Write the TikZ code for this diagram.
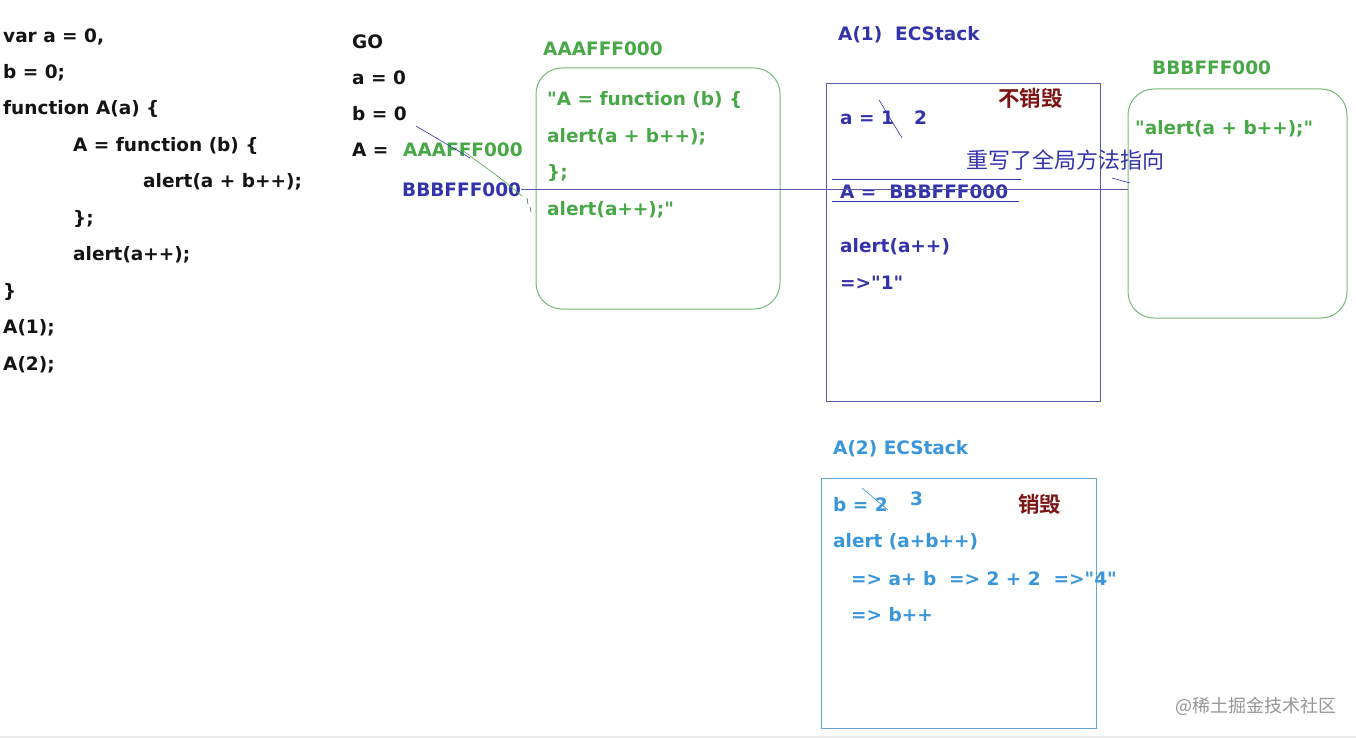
\documentclass[tikz,border=0pt]{standalone}
\usepackage{fontspec}
\newfontfamily\codefont{DejaVu Sans}[BoldFont={DejaVu Sans Bold}]
\newfontfamily\cjk{Noto Sans CJK SC}[BoldFont={Noto Sans CJK SC Bold}]
\definecolor{codeblack}{RGB}{20,20,20}
\definecolor{mygreen}{RGB}{72,168,72}
\definecolor{boxgreen}{RGB}{120,185,120}
\definecolor{darkblue}{RGB}{52,52,170}
\definecolor{boxblue}{RGB}{90,90,170}
\definecolor{lightblue}{RGB}{58,150,218}
\definecolor{boxlblue}{RGB}{100,165,215}
\definecolor{darkred}{RGB}{125,20,20}
\definecolor{wmgray}{RGB}{150,150,150}
\begin{document}
\begin{tikzpicture}[x=1pt,y=-1pt,
  txt/.style={anchor=west,inner sep=0pt,yshift=-1.5pt,font=\fontsize{18.5}{22}\selectfont\codefont\bfseries},
  code/.style={txt,text=codeblack},
  gtxt/.style={txt,text=mygreen},
  btxt/.style={txt,text=darkblue},
  ltxt/.style={txt,text=lightblue},
  cjktxt/.style={anchor=west,inner sep=0pt,font=\fontsize{22}{26}\selectfont\cjk},
  rtxt/.style={cjktxt,text=darkred,font=\fontsize{21.5}{26}\selectfont\cjk\bfseries},
  gbox/.style={draw=boxgreen,line width=1pt,rounded corners=26pt},
  bbox/.style={draw=boxblue,line width=1pt},
  lbox/.style={draw=boxlblue,line width=1pt},
  strike/.style={line width=0.6pt}
]
\useasboundingbox (0,0) rectangle (1356,738);
\fill[white] (0,0) rectangle (1356,738);
\draw[line width=1.5pt,draw=black!8] (0,737) -- (1356,737);

% left code
\node[code] (c1) at (3,35) {var a = 0,};
\node[code] (c2) at (3,71) {b = 0;};
\node[code] (c3) at (3,107) {function A(a) \{};
\node[code] (c4) at (73,144) {A = function (b) \{};
\node[code] (c5) at (143,180) {alert(a + b++);};
\node[code] (c6) at (73,217) {\};};
\node[code] (c7) at (73,253) {alert(a++);};
\node[code] (c8) at (3,290) {\}};
\node[code] (c9) at (3,326) {A(1);};
\node[code] (c10) at (3,363) {A(2);};

% GO
\node[code] (go) at (352,40) {GO};
\node[code] (ga) at (352,76) {a = 0};
\node[code] (gb) at (352,112) {b = 0};
\node[code] (gA) at (352,148) {A =};
\node[gtxt] (aaa) at (403,148) {AAAFFF000};
\node[btxt] (bbb) at (402,188) {BBBFFF000};

% green box 1
\node[gtxt] (aaat) at (543,47) {AAAFFF000};
\draw[gbox] (536,68) rectangle (780,309);
\node[gtxt] (f1) at (547,98) {"A = function (b) \{};
\node[gtxt] (f2) at (547,135) {alert(a + b++);};
\node[gtxt] (f3) at (547,171) {\};};
\node[gtxt] (f4) at (547,208) {alert(a++);"};

% A(1) ECStack
\node[btxt] (e1t) at (838,33) {A(1)\ \ ECStack};
\draw[bbox] (826,84) rectangle (1100,401);
\node[btxt] (e1a) at (840,116) {a = 1};
\node[btxt] (e1b) at (914,116) {2};
\draw[strike,draw=darkblue] (879,100) -- (902,138);
\node[rtxt] (keep) at (998,98) {不销毁};
\node[cjktxt,text=darkblue] (rew) at (966,160) {重写了全局方法指向};
\node[btxt] (e1A) at (840,190) {A =\ \ BBBFFF000};
\draw[draw=darkblue,line width=0.8pt] (832,179) -- (1021,179);
\draw[draw=darkblue,line width=0.8pt] (832,201) -- (1019,201);
\node[btxt] (e1c) at (840,245) {alert(a++)};
\node[btxt] (e1d) at (840,281) {=>"1"};

% green box 2
\node[gtxt] (bbbt) at (1152,66) {BBBFFF000};
\draw[gbox] (1128,89) rectangle (1347,318);
\coordinate (box2w) at (1128,186);
\node[gtxt] (g1) at (1135,127) {"alert(a + b++);"};

% pointer line
\draw[draw=boxblue,line width=1pt] (bbb.east) -- (bbb.east -| box2w);
\draw[strike,draw=darkblue] (1112,178) -- (1130,183);

% strike marks near GO
\draw[strike,draw=darkblue] (416,126) -- (470,158);
\draw[strike,draw=mygreen] (462,150) -- (500,178) -- (522,196);
\draw[strike,draw=mygreen!70!black] (527,198) -- (528,204);
\draw[strike,draw=mygreen!70!black] (530,207) -- (531,212);

% A(2) ECStack
\node[ltxt] (e2t) at (833,447) {A(2) ECStack};
\draw[lbox] (821,478) rectangle (1096,728);
\node[ltxt] (e2a) at (833,503) {b = 2};
\node[ltxt] (e2b) at (910,497) {3};
\draw[strike,draw=lightblue] (862,488) -- (888,510);
\node[rtxt] (dest) at (1018,504) {销毁};
\node[ltxt] (e2c) at (833,540) {alert (a+b++)};
\node[ltxt] (e2d) at (851,577) {=> a+ b\ \ => 2 + 2\ \ =>"4"};
\node[ltxt] (e2e) at (851,613) {=> b++};

% watermark
\node[anchor=west,inner sep=0pt,text=wmgray,font=\fontsize{18}{20}\selectfont\cjk] (wm) at (1175,706) {@稀土掘金技术社区};
\end{tikzpicture}
\end{document}
